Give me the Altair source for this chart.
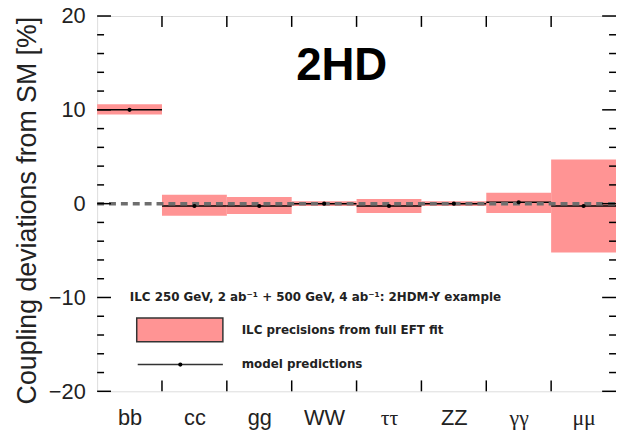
import altair as alt
import pandas as pd

categories = ["bb", "cc", "gg", "WW", "ττ", "ZZ", "γγ", "μμ"]
band_hi = [10.6, 0.95, 0.7, 0.25, 0.5, 0.25, 1.15, 4.7]
band_lo = [9.5, -1.3, -1.1, -0.25, -1.0, -0.25, -1.0, -5.2]
predictions = [10.0, -0.25, -0.25, 0.0, -0.25, 0.0, 0.15, -0.25]
y_major = [-20, -10, 0, 10, 20]
y_minor = [-18, -16, -14, -12, -8, -6, -4, -2, 2, 4, 6, 8, 12, 14, 16, 18]
x_bounds = [1, 2, 3, 4, 5, 6, 7]

W, H = 524, 379
FONT = "Liberation Sans"
SERIF = "Liberation Serif"
LEG_FONT = "DejaVu Sans"
PINK = "#ff9494"

n = len(categories)
df = pd.DataFrame({
    "cat": categories,
    "lo_x": list(range(n)),
    "hi_x": [i + 1 for i in range(n)],
    "mid_x": [i + 0.5 for i in range(n)],
    "band_hi": band_hi,
    "band_lo": band_lo,
    "pred": predictions,
})

label_arr = "[" + ",".join("'" + c + "'" for c in categories) + "]"
greek_vals = [i + 0.5 for i, c in enumerate(categories) if not c.isascii()]
greek_test = " || ".join("datum.value == %s" % v for v in greek_vals)

xscale = alt.Scale(domain=[0, n], nice=False, zero=False)
yscale = alt.Scale(domain=[-20, 20], nice=False)

base = alt.Chart(df)

bands = base.mark_rect(color=PINK).encode(
    x=alt.X("lo_x:Q", scale=xscale,
            axis=alt.Axis(values=[i + 0.5 for i in range(n)],
                          labelExpr=label_arr + "[floor(datum.value)]",
                          ticks=False, grid=False, domain=False, title=None,
                          labelFont={"condition": {"test": greek_test, "value": SERIF}, "value": FONT},
                          labelFontSize={"condition": {"test": greek_test, "value": 22}, "value": 22},
                          labelColor="#222",
                          labelPadding=17, labelBaseline="top")),
    x2="hi_x:Q",
    y=alt.Y("band_lo:Q", scale=yscale,
            axis=alt.Axis(values=y_major, format="d", ticks=False, grid=False,
                          domain=False,
                          title="Coupling deviations from SM [%]",
                          titleFont=FONT, titleFontSize=27, titleFontWeight="normal",
                          titleColor="#222", titleAngle=270, titleAlign="center",
                          titleBaseline="alphabetic", titleX=-62, titleY=196,
                          labelFont=FONT, labelFontSize=22, labelColor="#222",
                          labelPadding=12)),
    y2="band_hi:Q",
)

pred_lines = base.mark_rule(color="black", strokeWidth=1.5).encode(
    x="lo_x:Q", x2="hi_x:Q", y="pred:Q")

zero_df = pd.DataFrame({"v": [0]})
zero_line = alt.Chart(zero_df).mark_rule(
    color="#6e6e6e", strokeWidth=3.5, strokeDash=[7, 5]).encode(
    y=alt.Y("v:Q", scale=yscale), x=alt.value(0), x2=alt.value(W))

pred_pts = base.mark_point(filled=True, color="black", size=18, opacity=1).encode(
    x="mid_x:Q", y="pred:Q")

# inward ticks
ymaj_df = pd.DataFrame({"v": y_major})
ymin_df = pd.DataFrame({"v": y_minor})
xb_df = pd.DataFrame({"v": x_bounds})
tick_style = dict(color="black", strokeWidth=1.5)
lt_maj = alt.Chart(ymaj_df).mark_rule(**tick_style).encode(
    y=alt.Y("v:Q", scale=yscale), x=alt.value(0), x2=alt.value(14))
lt_min = alt.Chart(ymin_df).mark_rule(**tick_style).encode(
    y=alt.Y("v:Q", scale=yscale), x=alt.value(0), x2=alt.value(7))
rt_maj = alt.Chart(ymaj_df).mark_rule(**tick_style).encode(
    y=alt.Y("v:Q", scale=yscale), x=alt.value(W), x2=alt.value(W - 14))
rt_min = alt.Chart(ymin_df).mark_rule(**tick_style).encode(
    y=alt.Y("v:Q", scale=yscale), x=alt.value(W), x2=alt.value(W - 7))
top_t = alt.Chart(xb_df).mark_rule(**tick_style).encode(
    x=alt.X("v:Q", scale=xscale), y=alt.value(0), y2=alt.value(11))
bot_t = alt.Chart(xb_df).mark_rule(**tick_style).encode(
    x=alt.X("v:Q", scale=xscale), y=alt.value(H), y2=alt.value(H - 11))

# title text
title_txt = alt.Chart(pd.DataFrame({"t": ["2HD"]})).mark_text(
    font=FONT, fontSize=46, fontWeight="bold", color="black", align="center",
    baseline="middle").encode(text="t:N", x=alt.value(247), y=alt.value(51))

# legend
leg_kw = dict(font=LEG_FONT, fontSize=12, fontWeight="bold", color="#222",
              align="left", baseline="middle")
leg_head = alt.Chart(pd.DataFrame({"t": ["ILC 250 GeV, 2 ab⁻¹ + 500 GeV, 4 ab⁻¹: 2HDM-Y example"]})).mark_text(
    **leg_kw).encode(text="t:N", x=alt.value(33), y=alt.value(284))
leg_box = alt.Chart(pd.DataFrame({"t": [1]})).mark_rect(
    fill=PINK, stroke="#333", strokeWidth=1.5).encode(
    x=alt.value(40), x2=alt.value(127), y=alt.value(305), y2=alt.value(329))
leg_t1 = alt.Chart(pd.DataFrame({"t": ["ILC precisions from full EFT fit"]})).mark_text(
    **leg_kw).encode(text="t:N", x=alt.value(146), y=alt.value(317))
leg_line = alt.Chart(pd.DataFrame({"t": [1]})).mark_rule(
    color="#333", strokeWidth=1.5).encode(
    x=alt.value(41), x2=alt.value(127), y=alt.value(352))
leg_pt = alt.Chart(pd.DataFrame({"t": [1]})).mark_point(
    filled=True, color="black", size=18, opacity=1).encode(
    x=alt.value(84), y=alt.value(352))
leg_t2 = alt.Chart(pd.DataFrame({"t": ["model predictions"]})).mark_text(
    **leg_kw).encode(text="t:N", x=alt.value(146), y=alt.value(351))

chart = alt.layer(
    bands, pred_lines, zero_line, pred_pts,
    lt_maj, lt_min, rt_maj, rt_min, top_t, bot_t,
    title_txt, leg_head, leg_box, leg_t1, leg_line, leg_pt, leg_t2,
).properties(
    width=W, height=H,
    autosize=alt.AutoSizeParams(type="none"),
    padding={"left": 90, "top": 6, "right": 0, "bottom": 38},
).configure_view(
    stroke="black", strokeWidth=2
).configure(background="white")

chart.save("out.html", embed_options={"renderer": "svg", "actions": False})
